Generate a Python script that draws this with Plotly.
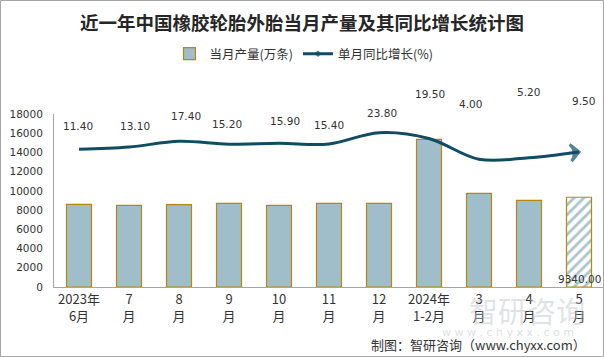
import plotly.graph_objects as go

# ---- data ----
categories = ["2023-06", "2023-07", "2023-08", "2023-09", "2023-10", "2023-11",
              "2023-12", "2024-01/02", "2024-03", "2024-04", "2024-05"]
tick_labels = ["2023年<br>6月", "7<br>月", "8<br>月", "9<br>月", "10<br>月", "11<br>月",
               "12<br>月", "2024年<br>1-2月", "3<br>月", "4<br>月", "5<br>月"]
production = [8600, 8500, 8570, 8705, 8500, 8705, 8705, 15365, 9746, 9018, 9340]
growth = [11.40, 13.10, 17.40, 15.20, 15.90, 15.40, 23.80, 19.50, 4.00, 5.20, 9.50]

# ---- styles ----
label_dy = [23, 21, 25, 20, 22, 19, 20, 44, 55, 66, 51]
label_dx = [-1, 6, 7, -2, 6, 0, 3, 1, -9, -1, 4]
BAR_FILL = "#a0bdca"
BAR_EDGE = "#b8860b"
STRIPE = "#a9c4d1"
LINE = "#0e4d64"
TXT = "#333333"
CJK = "Noto Sans CJK SC"
NUM = "DejaVu Sans"

n = len(categories)
bar_colors = [BAR_FILL] * (n - 1) + [STRIPE]
bar_shapes = [""] * (n - 1) + ["/"]

fig = go.Figure()
fig.add_trace(go.Bar(
    x=categories, y=production, name="当月产量(万条)",
    width=0.5,
    marker=dict(color=bar_colors,
                line=dict(color=BAR_EDGE, width=1.2),
                pattern=dict(shape=bar_shapes, fillmode="replace",
                             fgcolor=STRIPE, bgcolor="white",
                             size=7, solidity=0.4)),
    hoverinfo="skip",
))

symbols = ["diamond"] + ["circle"] * (n - 2) + ["arrow-wide-open"]
sizes = [9] + [0] * (n - 2) + [12]
fig.add_trace(go.Scatter(
    x=categories, y=growth, name="单月同比增长(%)", yaxis="y2",
    mode="lines+markers",
    line=dict(color=LINE, width=3, shape="spline", smoothing=1.0),
    marker=dict(symbol=symbols, size=sizes, color=LINE, angleref="previous",
                line=dict(color=LINE, width=3)),
    hoverinfo="skip",
))

annotations = []
for i, (c, v) in enumerate(zip(categories, growth)):
    annotations.append(dict(
        x=c, y=v, xref="x", yref="y2", text=f"{v:.2f}", showarrow=False,
        yshift=label_dy[i], xshift=label_dx[i], yanchor="middle",
        font=dict(family=NUM, size=10.5, color=TXT)))

annotations.append(dict(
    x=categories[-1], y=0, xref="x", yref="y", text=f"{production[-1]:.2f}",
    showarrow=False, yanchor="bottom", yshift=0,
    font=dict(family=NUM, size=10.5, color=TXT)))

# watermark
annotations.append(dict(
    x=(527 - 54) / 550, y=(287 - 310) / 173, xref="paper", yref="paper",
    xanchor="center", yanchor="middle",
    text="智研咨询", showarrow=False,
    font=dict(family=CJK, size=29, color="rgba(185,192,200,0.45)")))
annotations.append(dict(
    x=(508 - 54) / 550, y=(287 - 332) / 173, xref="paper", yref="paper",
    xanchor="center", yanchor="middle",
    text="w w w . c h y x x . c o m", showarrow=False,
    font=dict(family=NUM, size=11, color="rgba(185,192,200,0.5)")))

# footer
annotations.append(dict(
    x=(588 - 54) / 550, y=(287 - 344) / 173, xref="paper", yref="paper",
    xanchor="right", yanchor="middle",
    text="制图：智研咨询（www.chyxx.com）", showarrow=False,
    font=dict(family=CJK, size=13, color=TXT)))

fig.update_layout(
    width=604, height=357,
    margin=dict(l=54, r=0, t=114, b=70, autoexpand=False),
    paper_bgcolor="white", plot_bgcolor="white",
    title=dict(text="<b>近一年中国橡胶轮胎外胎当月产量及其同比增长统计图</b>",
               x=0.5, xanchor="center", y=1 - 24 / 357, yanchor="middle",
               font=dict(family=CJK, size=18.5, color="#262626")),
    showlegend=True,
    legend=dict(orientation="h", x=(304 - 54) / 550, xanchor="center",
                y=(287 - 54) / 173, yanchor="middle",
                font=dict(family=CJK, size=12.5, color=TXT),
                itemwidth=30, bgcolor="rgba(0,0,0,0)"),
    xaxis=dict(type="category", categoryorder="array", categoryarray=categories,
               tickmode="array", tickvals=categories, ticktext=tick_labels,
               tickfont=dict(family=CJK, size=13, color=TXT),
               showgrid=False, showline=True, linecolor="#a6a6a6", linewidth=1,
               ticks="", zeroline=False, range=[-0.5, n - 0.5]),
    yaxis=dict(range=[0, 18000], dtick=2000, tickformat="d",
               showgrid=False, zeroline=False,
               showline=True, linecolor="#a6a6a6", linewidth=1,
               ticks="", ticklabelstandoff=8,
               tickfont=dict(family=NUM, size=10.5, color=TXT)),
    yaxis2=dict(range=[-91.1, 37.72], overlaying="y", side="right",
                visible=False, showgrid=False, zeroline=False),
    annotations=annotations,
    shapes=[dict(type="rect", xref="paper", yref="paper",
                 x0=(0.5 - 54) / 550, x1=(603.5 - 54) / 550,
                 y0=(287 - 356.5) / 173, y1=(287 - 0.5) / 173,
                 line=dict(color="#a6a6a6", width=1), fillcolor="rgba(0,0,0,0)",
                 layer="below")],
)

fig.write_html("out.html", config={"displayModeBar": False},
               post_script="document.body.style.margin='0';document.body.style.overflow='hidden';")
